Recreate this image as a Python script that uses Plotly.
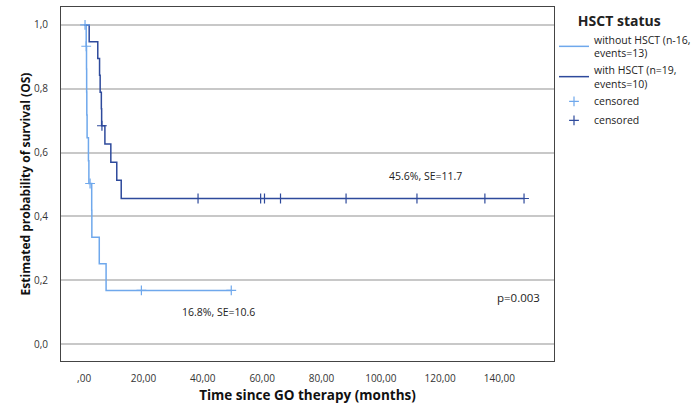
import plotly.graph_objects as go

# Kaplan-Meier step data (months, survival probability)
without_times = [0, 0.7, 0.8, 0.85, 0.9, 1.0, 1.45, 1.6, 2.55, 2.6, 5.1, 7.4, 49.6]
without_surv = [1.0, 0.933, 0.862, 0.790, 0.718, 0.646, 0.574, 0.503, 0.419, 0.335, 0.252, 0.168, 0.168]
without_cens_t = [0.3, 0.7, 2.0, 19.3, 49.6]
without_cens_s = [1.0, 0.933, 0.503, 0.168, 0.168]

with_times = [0, 1.7, 4.6, 5.2, 5.4, 5.8, 5.9, 7.0, 9.0, 11.0, 12.5, 148.3]
with_surv = [1.0, 0.947, 0.895, 0.842, 0.789, 0.737, 0.684, 0.627, 0.570, 0.513, 0.456, 0.456]
with_cens_t = [6.0, 38.4, 59.5, 60.8, 66.2, 88.3, 112.2, 135.1, 148.3]
with_cens_s = [0.684, 0.456, 0.456, 0.456, 0.456, 0.456, 0.456, 0.456, 0.456]

x_tickvals = [0, 20, 40, 60, 80, 100, 120, 140]
x_ticktext = [",00", "20,00", "40,00", "60,00", "80,00", "100,00", "120,00", "140,00"]
y_tickvals = [0, 0.2, 0.4, 0.6, 0.8, 1.0]
y_ticktext = ["0,0", "0,2", "0,4", "0,6", "0,8", "1,0"]

LIGHT = "#6fa8ec"
DARK = "#2e4a9c"
FONT = "Open Sans"

fig = go.Figure()
fig.add_trace(go.Scatter(x=without_times, y=without_surv, mode="lines", line_shape="hv",
                         line=dict(color=LIGHT, width=1.5),
                         name="without HSCT (n-16,<br>events=13)"))
fig.add_trace(go.Scatter(x=with_times, y=with_surv, mode="lines", line_shape="hv",
                         line=dict(color=DARK, width=1.5),
                         name="with HSCT (n=19,<br>events=10)"))
fig.add_trace(go.Scatter(x=without_cens_t, y=without_cens_s, mode="markers",
                         marker=dict(symbol="cross-thin", size=7, line=dict(color=LIGHT, width=1.2)),
                         name="censored"))
fig.add_trace(go.Scatter(x=with_cens_t, y=with_cens_s, mode="markers",
                         marker=dict(symbol="cross-thin", size=7, line=dict(color=DARK, width=1.2)),
                         name="censored"))

fig.add_annotation(x=115.2, y=0.527, text="45.6%, SE=11.7", showarrow=False,
                   font=dict(family=FONT, size=10.5, color="#222"))
fig.add_annotation(x=45.3, y=0.101, text="16.8%, SE=10.6", showarrow=False,
                   font=dict(family=FONT, size=10.5, color="#222"))
fig.add_annotation(x=146.4, y=0.147, text="p=0.003", showarrow=False,
                   font=dict(family=FONT, size=11.5, color="#222"))

fig.update_layout(
    width=692, height=408,
    margin=dict(l=61, r=138, t=7, b=47),
    paper_bgcolor="white", plot_bgcolor="white",
    font=dict(family=FONT, color="#333"),
    legend=dict(
        title=dict(text="&nbsp;&nbsp;&nbsp;&nbsp;&nbsp;&nbsp;<b>HSCT status</b>",
                   font=dict(family=FONT, size=14, color="#222")),
        xref="container", yref="container",
        x=554 / 692, xanchor="left", y=1 - 8 / 408, yanchor="top",
        font=dict(family=FONT, size=10.5, color="#222"),
        tracegroupgap=0, itemwidth=30, bgcolor="rgba(0,0,0,0)",
    ),
    xaxis=dict(
        range=[-7.8, 158.4], tickvals=x_tickvals, ticktext=x_ticktext,
        showgrid=False, zeroline=False, automargin=False,
        showline=True, linecolor="#444", linewidth=1, mirror=True,
        ticks="", ticklabelstandoff=8,
        tickfont=dict(family=FONT, size=10, color="#333"),
        title=dict(text="<b>Time since GO therapy (months)</b>",
                   font=dict(family=FONT, size=13.5, color="#111"), standoff=6),
    ),
    yaxis=dict(
        range=[-0.053, 1.056], tickvals=y_tickvals, ticktext=y_ticktext,
        showgrid=True, gridcolor="#c8c8c8", gridwidth=1.5, zeroline=False, automargin=False,
        showline=True, linecolor="#444", linewidth=1, mirror=True,
        ticks="", ticklabelstandoff=10,
        tickfont=dict(family=FONT, size=10, color="#333"),
        title=dict(text="<b>Estimated probability of survival (OS)</b>",
                   font=dict(family=FONT, size=12, color="#111"), standoff=0),
    ),
    showlegend=True,
)

fig.write_html("out.html", config={"displayModeBar": False},
               post_script="document.body.style.margin='0';")
